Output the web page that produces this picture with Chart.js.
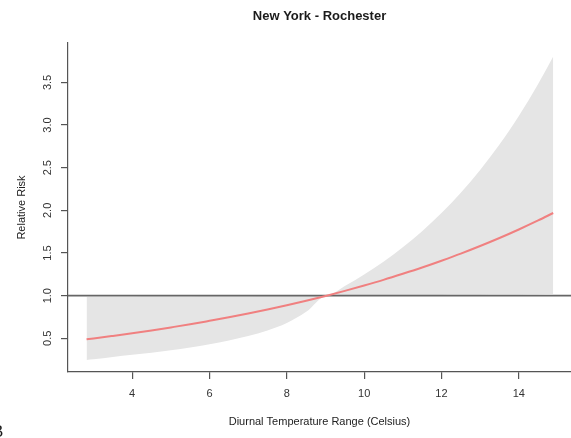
<!DOCTYPE html>
<html>
<head>
<meta charset="utf-8">
<title>New York - Rochester</title>
<script src="https://cdn.jsdelivr.net/npm/chart.js@4/dist/chart.umd.min.js"></script>
<style>
  html, body { margin: 0; padding: 0; background: #ffffff; }
  #wrap { width: 571px; height: 438px; position: relative; }
  canvas { display: block; }
</style>
</head>
<body>
<div id="wrap"><canvas id="chart" width="571" height="438"></canvas></div>
<script>
// Diurnal temperature range (Celsius) at which the curve is evaluated
const drt = [2.82, 3, 3.5, 4, 4.5, 5, 5.5, 6, 6.5, 7, 7.5, 8, 8.5, 9.03,
             9.5, 10, 10.5, 11, 11.5, 12, 12.5, 13, 13.5, 14, 14.5, 14.89];

// Estimated relative risk
const rrFit = [0.488, 0.498, 0.528, 0.559, 0.592, 0.628, 0.665, 0.705, 0.746, 0.791,
               0.838, 0.888, 0.941, 1.000, 1.056, 1.119, 1.185, 1.256, 1.330, 1.410,
               1.493, 1.582, 1.676, 1.776, 1.882, 1.969];

// Upper confidence limit
const rrUpper = [0.985, 0.986, 0.987, 0.988, 0.989, 0.990, 0.991, 0.992, 0.993, 0.994,
                 0.995, 0.996, 0.998, 1.000, 1.113, 1.248, 1.398, 1.567, 1.756, 1.968,
                 2.206, 2.472, 2.771, 3.106, 3.481, 3.804];

// Lower confidence limit
const rrLower = [0.246, 0.254, 0.280, 0.306, 0.332, 0.360, 0.392, 0.430, 0.475, 0.528,
                 0.592, 0.680, 0.810, 1.000, 1.001, 1.003, 1.004, 1.006, 1.007, 1.009,
                 1.010, 1.012, 1.013, 1.015, 1.016, 1.018];

// Axis ranges and ticks
const xRange = [2.34, 15.35];
const yRange = [0.105, 3.962];
const xTicks = [4, 6, 8, 10, 12, 14];
const yTicks = [0.5, 1.0, 1.5, 2.0, 2.5, 3.0, 3.5];
const refRR = 1.0;

const FONT = '"Liberation Sans", Arial, Helvetica, sans-serif';
const toPts = (ys) => drt.map((x, i) => ({ x, y: ys[i] }));

// Title and panel letter, drawn on the canvas after the chart
const decorations = {
  id: 'decorations',
  afterDraw(chart) {
    const { ctx, chartArea } = chart;
    ctx.save();
    ctx.fillStyle = '#1a1a1a';
    ctx.font = 'bold 13px ' + FONT;
    ctx.textAlign = 'center';
    ctx.textBaseline = 'middle';
    ctx.fillText('New York - Rochester', (chartArea.left + chartArea.right) / 2, 16);
    ctx.font = '17px ' + FONT;
    ctx.textAlign = 'left';
    ctx.textBaseline = 'alphabetic';
    ctx.fillText('B', -8, 437);
    ctx.restore();
  }
};

new Chart(document.getElementById('chart'), {
  type: 'line',
  data: {
    datasets: [
      {
        label: 'Upper limit',
        data: toPts(rrUpper),
        borderWidth: 0,
        borderColor: 'rgba(0,0,0,0)',
        pointRadius: 0,
        fill: false,
        cubicInterpolationMode: 'monotone',
        order: 3
      },
      {
        label: 'Lower limit',
        data: toPts(rrLower),
        borderWidth: 0,
        borderColor: 'rgba(0,0,0,0)',
        backgroundColor: '#e5e5e5',
        pointRadius: 0,
        fill: 0,
        cubicInterpolationMode: 'monotone',
        order: 3
      },
      {
        label: 'Reference',
        data: [{ x: xRange[0], y: refRR }, { x: xRange[1], y: refRR }],
        borderColor: '#666666',
        borderWidth: 1.8,
        pointRadius: 0,
        fill: false,
        order: 2
      },
      {
        label: 'Relative risk',
        data: toPts(rrFit),
        borderColor: '#f08080',
        borderWidth: 2,
        pointRadius: 0,
        fill: false,
        cubicInterpolationMode: 'monotone',
        order: 1
      }
    ]
  },
  options: {
    responsive: false,
    animation: false,
    devicePixelRatio: 1,
    layout: { padding: { top: 43, right: 0, bottom: 0, left: 0 } },
    plugins: {
      legend: { display: false },
      title: { display: false },
      tooltip: { enabled: false }
    },
    scales: {
      x: {
        type: 'linear',
        min: xRange[0],
        max: xRange[1],
        afterFit(scale) { scale.height = 66; },
        afterBuildTicks(scale) { scale.ticks = xTicks.map(v => ({ value: v })); },
        border: { display: true, color: '#555555', width: 1.2 },
        grid: { drawOnChartArea: false, drawTicks: true, tickLength: 7, color: '#555555', lineWidth: 1.2 },
        ticks: {
          includeBounds: false,
          padding: 8,
          color: '#333333',
          font: { family: FONT, size: 11 },
          maxRotation: 0,
          callback: (v) => String(v)
        },
        title: {
          display: true,
          text: 'Diurnal Temperature Range (Celsius)',
          color: '#222222',
          font: { family: FONT, size: 11 },
          padding: { top: 0, bottom: 9 }
        }
      },
      y: {
        type: 'linear',
        min: yRange[0],
        max: yRange[1],
        afterFit(scale) { scale.width = 68; },
        afterBuildTicks(scale) { scale.ticks = yTicks.map(v => ({ value: v })); },
        border: { display: true, color: '#555555', width: 1.2 },
        grid: { drawOnChartArea: false, drawTicks: true, tickLength: 7, color: '#555555', lineWidth: 1.2 },
        ticks: {
          includeBounds: false,
          padding: 5,
          minRotation: 90,
          maxRotation: 90,
          crossAlign: 'center',
          color: '#333333',
          font: { family: FONT, size: 11 },
          callback: (v) => Number(v).toFixed(1)
        },
        title: {
          display: true,
          text: 'Relative Risk',
          color: '#222222',
          font: { family: FONT, size: 11 },
          padding: { top: 15, bottom: 0 }
        }
      }
    }
  },
  plugins: [decorations]
});
</script>
</body>
</html>
